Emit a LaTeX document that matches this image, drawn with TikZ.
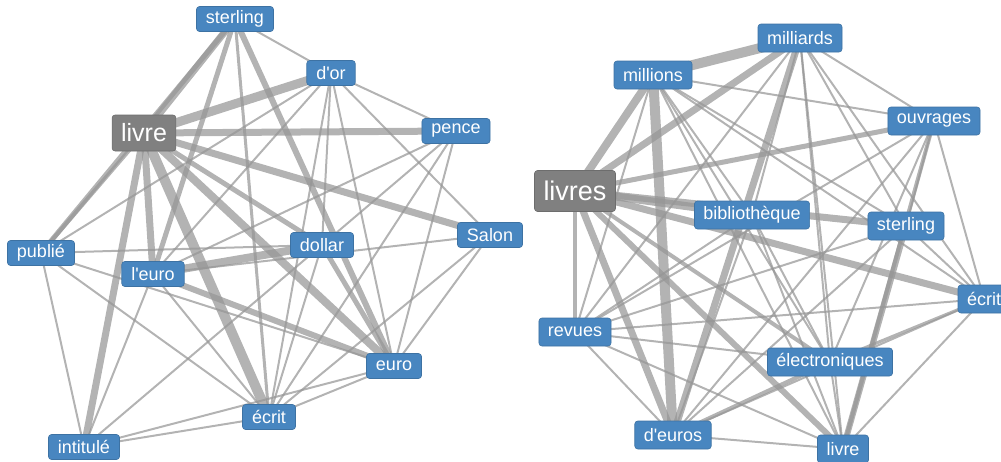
\documentclass[tikz,border=0pt]{standalone}
\usepackage{fontspec}
\newfontfamily\nodefont{Liberation Sans}
\usetikzlibrary{backgrounds}
\definecolor{nodeblue}{RGB}{72,134,192}
\definecolor{nodegray}{RGB}{128,128,128}
\definecolor{edgegray}{RGB}{150,150,150}
\tikzset{
  word/.style={fill=nodeblue, draw=nodeblue!85!black, line width=0.6pt, rounded corners=3pt,
    text=white, font=\nodefont\fontsize{18}{18}\selectfont, inner xsep=9.5pt, inner ysep=0pt,
    minimum height=25pt},
  wordr/.style={word, minimum height=28pt, inner xsep=9pt},
  hub/.style={fill=nodegray, draw=nodegray!85!black, line width=0.6pt, rounded corners=3pt,
    text=white, inner xsep=9pt, inner ysep=0pt},
  edge/.style={draw=edgegray, opacity=0.72, line cap=round},
}
\newcommand{\qs}{\textquotesingle}
\begin{document}
\begin{tikzpicture}[x=1pt,y=-1pt]
\useasboundingbox (0,0) rectangle (1001,461);
% ---- left graph nodes
\node[word] (Lster) at (235,19) {sterling};
\node[word] (Ldor) at (331,73) {d\qs or};
\node[hub, minimum height=36pt, font=\nodefont\fontsize{25}{25}\selectfont] (Llivre) at (144,133) {livre};
\node[word] (Lpence) at (456,131) {pence};
\node[word] (Lsalon) at (490,235) {Salon};
\node[word] (Lpublie) at (41,253) {publié};
\node[word] (Ldollar) at (322,245) {dollar};
\node[word] (Leuroa) at (153,274) {l\qs euro};
\node[word] (Leuro) at (394,366) {euro};
\node[word] (Lecrit) at (269,417) {écrit};
\node[word] (Lintit) at (84,447) {intitulé};
% ---- right graph nodes
\node[wordr] (Rmilliards) at (800,38) {milliards};
\node[wordr] (Rmillions) at (653,75) {millions};
\node[wordr] (Rouvr) at (934,121) {ouvrages};
\node[hub, minimum height=41pt, font=\nodefont\fontsize{27}{27}\selectfont] (Rlivres) at (575,191) {livres};
\node[wordr] (Rbib) at (752,215) {bibliothèque};
\node[wordr] (Rster) at (906,226) {sterling};
\node[wordr] (Recrit) at (984,299) {écrit};
\node[wordr] (Rrevues) at (575,332) {revues};
\node[wordr] (Relec) at (830,362) {électroniques};
\node[wordr] (Rdeuros) at (673,435) {d\qs euros};
\node[wordr] (Rlivre) at (843,449) {livre};
\begin{scope}[on background layer]
\foreach \a/\b/\w in {
  Llivre/Lster/7, Llivre/Ldor/9, Llivre/Lpence/7, Llivre/Lsalon/7, Llivre/Ldollar/5,
  Llivre/Leuro/8, Llivre/Lecrit/10, Llivre/Leuroa/7, Llivre/Lintit/7, Llivre/Lpublie/4,
  Lster/Ldor/2, Lster/Leuroa/5, Lster/Lpublie/5, Lster/Leuro/6, Lster/Lecrit/3,
  Ldollar/Leuro/5, Leuroa/Ldollar/8, Leuroa/Leuro/6,
  Lpublie/Leuro/2, Lpublie/Lecrit/2, Lpublie/Lintit/2, Lpublie/Ldollar/2,
  Leuroa/Lsalon/2, Ldor/Leuroa/2, Ldor/Lpublie/2, Ldor/Lecrit/2, Ldor/Leuro/2,
  Ldor/Ldollar/2, Ldor/Lpence/2, Ldor/Lsalon/2,
  Lpence/Ldollar/2, Lpence/Leuroa/2, Lpence/Lecrit/2, Lpence/Leuro/2,
  Lsalon/Lecrit/2, Lsalon/Leuro/2, Lecrit/Lintit/2, Lecrit/Leuro/2, Leuro/Lintit/2,
  Ldollar/Lintit/2, Leuroa/Lintit/2, Leuroa/Lecrit/2, Ldollar/Lecrit/2
}{
  \draw[edge, line width=\w pt] (\a.center) -- (\b.center);
}
\foreach \a/\b/\w in {
  Rlivres/Rmillions/8, Rlivres/Rmilliards/7, Rlivres/Rouvr/5, Rlivres/Rbib/8,
  Rlivres/Rster/7, Rlivres/Recrit/7, Rlivres/Rrevues/4, Rlivres/Rdeuros/7,
  Rlivres/Rlivre/6, Rlivres/Relec/4,
  Rmillions/Rmilliards/10, Rmillions/Rdeuros/10, Rmillions/Rouvr/2, Rmillions/Rbib/2,
  Rmillions/Rster/2, Rmillions/Recrit/2, Rmillions/Relec/2, Rmillions/Rlivre/2, Rmillions/Rrevues/2,
  Rmilliards/Rdeuros/7, Rmilliards/Rouvr/2, Rmilliards/Rster/2, Rmilliards/Recrit/2,
  Rmilliards/Relec/2, Rmilliards/Rlivre/2, Rmilliards/Rrevues/2, Rmilliards/Rbib/2,
  Rouvr/Relec/2, Rouvr/Rlivre/4, Rouvr/Rdeuros/2, Rouvr/Rrevues/2, Rouvr/Recrit/2, Rouvr/Rster/2,
  Rbib/Relec/2, Rbib/Rlivre/2, Rbib/Rdeuros/2, Rbib/Rrevues/2,
  Rster/Rlivre/6, Rster/Rdeuros/2, Rster/Rrevues/2, Rster/Recrit/2,
  Recrit/Rrevues/2, Recrit/Relec/3, Recrit/Rlivre/2, Recrit/Rdeuros/2,
  Rrevues/Relec/2, Rrevues/Rdeuros/2, Rrevues/Rlivre/2,
  Relec/Rdeuros/4, Relec/Rlivre/2, Rdeuros/Rlivre/2
}{
  \draw[edge, line width=\w pt] (\a.center) -- (\b.center);
}
\end{scope}
\end{tikzpicture}
\end{document}
